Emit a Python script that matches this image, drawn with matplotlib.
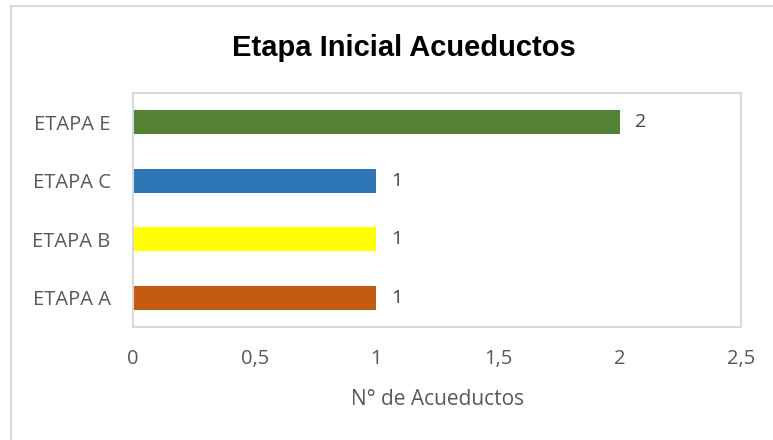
import matplotlib
import matplotlib.pyplot as plt
from matplotlib.patches import Rectangle

matplotlib.use("Agg", force=True)

etapas = ["ETAPA A", "ETAPA B", "ETAPA C", "ETAPA E"]
acueductos = [1, 1, 1, 2]
colores = ["#C55A11", "#FFFF00", "#2E75B6", "#548235"]
x_ticks = [0, 0.5, 1, 1.5, 2, 2.5]
x_tick_labels = ["0", "0,5", "1", "1,5", "2", "2,5"]

texto_gris = "#595959"
borde_gris = "#D9D9D9"
fuente = "Open Sans"

fig = plt.figure(figsize=(7.73, 4.40), dpi=100)
ax = fig.add_axes([0.172, 0.257, 0.787, 0.532])

posiciones = range(len(etapas))
ax.barh(posiciones, acueductos, height=0.41, color=colores)
for pos, valor in zip(posiciones, acueductos):
    ax.annotate(str(valor), (valor, pos), xytext=(11, 0), textcoords="offset points",
                va="center", ha="left", fontsize=14, color="#404040", family=fuente)

ax.set_xlim(0, 2.5)
ax.set_ylim(-0.5, 3.5)
ax.set_yticks(list(posiciones))
ax.set_yticklabels(etapas, family=fuente, fontsize=14.5, color=texto_gris)
ax.set_xticks(x_ticks)
ax.set_xticklabels(x_tick_labels, family=fuente, fontsize=14.5, color=texto_gris)
ax.tick_params(axis="both", length=0)
ax.tick_params(axis="x", pad=16)
ax.tick_params(axis="y", pad=16)
for spine in ax.spines.values():
    spine.set_color(borde_gris)
    spine.set_linewidth(1.5)

ax.set_xlabel("N° de Acueductos", family=fuente, fontsize=15, color=texto_gris, labelpad=14)
fig.text(0.522, 0.89, "Etapa Inicial Acueductos", ha="center", va="center",
         family="Liberation Sans", fontweight="bold", fontsize=21, color="black")

# marco exterior del grafico
marco = Rectangle((0.0142, -0.05), 1.1, 1.036, transform=fig.transFigure,
                  fill=False, edgecolor=borde_gris, linewidth=1.5, clip_on=False)
fig.patches.append(marco)

fig.savefig("out.png", dpi=100)
